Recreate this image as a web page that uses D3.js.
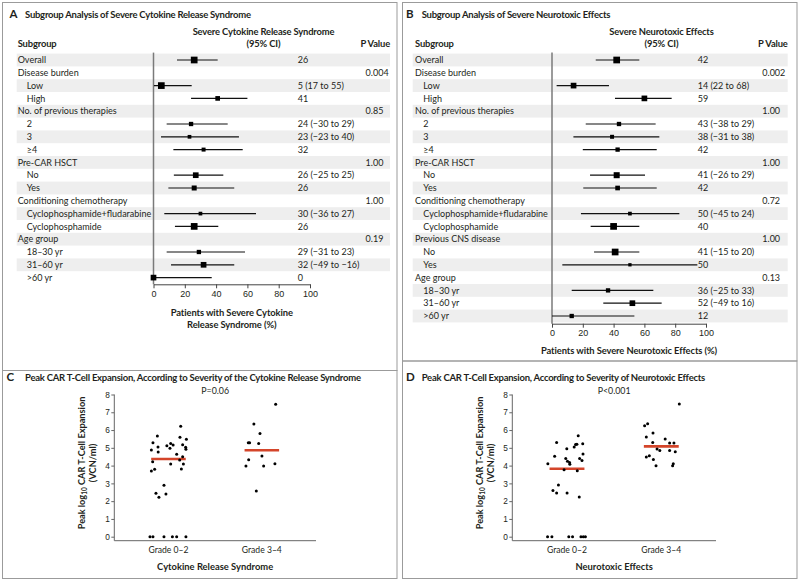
<!DOCTYPE html>
<html><head><meta charset="utf-8">
<script src="https://cdn.jsdelivr.net/npm/d3@7"></script>
<style>
body{margin:0;background:#fff}
svg{display:block;font-family:Lato,"Liberation Sans",sans-serif}
</style></head><body>
<svg id="chart" width="800" height="581"></svg>
<script>
// ---------------- Data: Panel A (severe cytokine release syndrome) ----------------
const subgroupsA = ["Overall","Disease burden","Low","High","No. of previous therapies","2","3","≥4","Pre-CAR HSCT","No","Yes","Conditioning chemotherapy","Cyclophosphamide+fludarabine","Cyclophosphamide","Age group","18–30 yr","31–60 yr",">60 yr"];
const indentA   = [0,0,1,1,0,1,1,1,0,1,1,0,1,1,0,1,1,1];
const estimateA = [26,null,5,41,null,24,23,32,null,27,26,null,30,26,null,29,32,0];
const lowerA    = [15,null,0.3,24,null,8.4,4.8,12.7,null,13,9.5,null,6.9,13.7,null,8.4,11.2,0.3];
const upperA    = [41,null,24.4,60,null,47.4,54.6,57,null,44.6,51.6,null,65.5,41.4,null,58.5,51.6,37.2];
const weightA   = [1,null,1,0.4,null,0.3,0.12,0.2,null,0.7,0.5,null,0.12,1,null,0.3,0.7,0.7];
const valueTextA = ["26","","5 (17 to 55)","41","","24 (−30 to 29)","23 (−23 to 40)","32","","26 (−25 to 25)","26","","30 (−36 to 27)","26","","29 (−31 to 23)","32 (−49 to −16)","0"];
const pValueA   = ["","0.004","","","0.85","","","","1.00","","","1.00","","","0.19","","",""];

// ---------------- Data: Panel B (severe neurotoxic effects) ----------------
const subgroupsB = ["Overall","Disease burden","Low","High","No. of previous therapies","2","3","≥4","Pre-CAR HSCT","No","Yes","Conditioning chemotherapy","Cyclophosphamide+fludarabine","Cyclophosphamide","Previous CNS disease","No","Yes","Age group","18–30  yr","31–60 yr",">60 yr"];
const indentB   = [0,0,1,1,0,1,1,1,0,1,1,0,1,1,0,1,1,0,1,1,1];
const estimateB = [42,null,14,60,null,43.5,39,42.6,null,42,42.6,null,50.6,40,null,41,50.6,null,36.4,52.2,12.8];
const lowerB    = [28.4,null,3,40.9,null,21.9,13.9,20,null,24.7,20.3,null,18.8,25.1,null,27.3,6.7,null,12.8,33.3,0];
const upperB    = [56.7,null,37,77.7,null,67.3,69.7,68,null,60.4,68,null,82.7,56.7,null,56.7,94.4,null,65.8,71.2,53.5];
const weightB   = [1,null,0.7,0.7,null,0.3,0.2,0.3,null,0.8,0.4,null,0.12,1,null,1,0,null,0.3,0.7,0.3];
const valueTextB = ["42","","14 (22 to 68)","59","","43 (−38 to 29)","38 (−31 to 38)","42","","41 (−26 to 29)","42","","50 (−45 to 24)","40","","41 (−15 to 20)","50","","36 (−25 to 33)","52 (−49 to 16)","12"];
const pValueB   = ["","0.002","","","1.00","","","","1.00","","","0.72","","","1.00","","","0.13","","",""];

const xTicks = [0,20,40,60,80,100];

// ---------------- Data: Panel C (CAR T-cell expansion by CRS grade) ----------------
const grades = ["Grade 0–2","Grade 3–4"];
const yTicks = [0,1,2,3,4,5,6,7,8];
const crsLowValues  = [6.22,5.66,5.29,5.59,5.48,5.05,5.12,5.25,5.16,5.18,4.88,4.76,4.97,5.03,4.92,4.64,4.50,4.31,4.22,4.09,4.09,3.70,3.79,3.81,2.89,2.44,2.22,2.40,0,0,0,0,0,0];
const crsLowJitter  = [0.131,-0.119,-0.166,0.123,0.192,-0.112,-0.017,0.024,0.050,0.152,-0.183,-0.110,0.016,0.184,0.187,0.088,0.152,0.120,-0.169,0.024,0.160,-0.183,-0.148,0.138,-0.048,-0.134,-0.102,-0.027,-0.198,-0.166,-0.048,0.042,0.088,0.187];
const crsHighValues = [7.45,6.34,5.81,5.29,5.29,5.25,4.54,4.33,3.98,3.98,4.11,2.57];
const crsHighJitter = [0.148,-0.085,-0.020,-0.145,-0.131,-0.034,0.001,-0.141,-0.170,0.019,0.140,-0.059];
const crsMedians = [4.37,4.86];

// ---------------- Data: Panel D (CAR T-cell expansion by neurotoxicity grade) ----------------
const neuroLowValues  = [5.68,5.30,5.19,5.20,5.04,5.23,4.95,4.52,4.65,4.40,4.40,4.29,4.24,4.18,4.07,4.11,3.77,3.71,2.91,2.60,2.46,2.46,2.23,0,0,0,0,0,0,0];
const neuroLowJitter  = [0.119,-0.110,0.091,0.105,0.076,0.167,-0.002,-0.131,0.170,-0.013,0.134,0.159,0.005,0.027,0.030,-0.203,-0.031,0.109,-0.091,-0.149,-0.110,0.001,0.130,-0.206,-0.160,0.019,0.059,0.148,0.173,0.195];
const neuroHighValues = [7.46,6.36,6.24,5.83,5.61,5.50,5.30,5.27,5.27,4.93,4.85,4.85,4.78,4.48,4.56,4.35,3.99,4.11,3.99];
const neuroHighJitter = [0.191,-0.145,-0.177,-0.088,-0.159,0.041,-0.091,0.088,0.134,-0.045,-0.016,0.088,0.148,-0.159,-0.127,-0.084,-0.056,0.127,0.120];
const neuroMedians = [3.82,5.08];

// ---------------- Drawing ----------------
const svg = d3.select("#chart");
const FS = 9;
const textCol = "#231f20";
const borderCol = "#9b9b9b";

// panel borders
const boxes = [[2.5,2.5,397,370.5],[402.5,2.5,797,361],[2.5,370.5,397,578.5],[402.5,361,797,578.5]];
svg.selectAll("rect.box").data(boxes).join("rect").attr("class","box")
  .attr("x",d=>d[0]).attr("y",d=>d[1]).attr("width",d=>d[2]-d[0]).attr("height",d=>d[3]-d[1])
  .attr("fill","none").attr("stroke",borderCol).attr("stroke-width",1);

function panelTitle(letter, lx, tx, y, text){
  svg.append("text").attr("x",lx).attr("y",y).attr("font-size",11.5).attr("font-weight",700).attr("fill",textCol).text(letter);
  svg.append("text").attr("x",tx).attr("y",y).attr("font-size",9.5).attr("font-weight",700)
    .attr("letter-spacing",-0.25).attr("fill",textCol).text(text);
}

function forest(cfg){
  const g = svg.append("g");
  const n = cfg.labels.length;
  const yRow = i => cfg.row0 + cfg.rowH*i;
  const x = d3.scaleLinear().domain([0,100]).range(cfg.xRange);
  const sz = d3.scaleLinear().domain([0,1]).range([3.3,6.7]);
  const idx = d3.range(n);
  // shading
  g.selectAll("rect.band").data(idx.filter(i=>i%2===0)).join("rect")
    .attr("x",cfg.band[0]).attr("width",cfg.band[1]-cfg.band[0])
    .attr("y",i=>yRow(i)-cfg.rowH/2).attr("height",cfg.rowH).attr("fill","#eeeeee");
  // headers
  const hb = (t,xx,yy,anchor)=>g.append("text").attr("x",xx).attr("y",yy+3.3).attr("text-anchor",anchor)
     .attr("font-size",9.4).attr("font-weight",700).attr("letter-spacing",-0.15).attr("fill",textCol).text(t);
  hb(cfg.header,cfg.headerX,32,"middle");
  hb("(95% CI)",cfg.headerX,43.5,"middle");
  hb("Subgroup",cfg.labelX,43.5,"start");
  hb("P Value",cfg.band[1],43.5,"end");
  // labels
  g.selectAll("text.lab").data(idx).join("text")
    .attr("x",i=>cfg.indent[i]?cfg.indentX:cfg.labelX).attr("y",i=>yRow(i)+3.2)
    .attr("font-size",FS).attr("fill",textCol).text(i=>cfg.labels[i]);
  g.selectAll("text.val").data(idx).join("text")
    .attr("x",cfg.valueX).attr("y",i=>yRow(i)+3.2)
    .attr("font-size",FS).attr("fill",textCol).text(i=>cfg.valueText[i]);
  g.selectAll("text.pv").data(idx).join("text")
    .attr("x",cfg.pX).attr("y",i=>yRow(i)+3.2)
    .attr("font-size",FS).attr("fill",textCol).text(i=>cfg.p[i]);
  // reference line
  g.append("line").attr("x1",x(0)).attr("x2",x(0)).attr("y1",cfg.row0-cfg.rowH/2-1).attr("y2",cfg.axisY)
    .attr("stroke","#7a7a7a").attr("stroke-width",1.5);
  // CIs and squares
  const est = idx.filter(i=>cfg.est[i]!==null);
  g.selectAll("line.ci").data(est).join("line")
    .attr("x1",i=>x(cfg.lo[i])).attr("x2",i=>x(cfg.hi[i]))
    .attr("y1",i=>yRow(i)).attr("y2",i=>yRow(i)).attr("stroke","#111").attr("stroke-width",1.2);
  g.selectAll("rect.sq").data(est).join("rect")
    .attr("x",i=>x(cfg.est[i])-sz(cfg.w[i])/2).attr("y",i=>yRow(i)-sz(cfg.w[i])/2)
    .attr("width",i=>sz(cfg.w[i])).attr("height",i=>sz(cfg.w[i])).attr("fill","#000");
  // axis
  const ax = g.append("g").attr("transform",`translate(0,${cfg.axisY})`)
    .call(d3.axisBottom(x).tickValues(xTicks).tickSize(4).tickSizeOuter(0).tickPadding(2));
  ax.select(".domain").attr("stroke","#444");
  ax.selectAll(".tick line").attr("stroke","#444");
  ax.selectAll(".tick text").attr("font-size",FS).attr("font-family","inherit").attr("fill",textCol);
  // axis title
  cfg.axisTitle.forEach((t,k)=>{
    g.append("text").attr("x",(cfg.xRange[0]+cfg.xRange[1])/2).attr("y",cfg.axisTitleY+k*11.5)
      .attr("text-anchor","middle").attr("font-size",9.4).attr("font-weight",700).attr("letter-spacing",-0.1)
      .attr("fill",textCol).text(t);
  });
}

panelTitle("A",9.5,25,17.5,"Subgroup Analysis of Severe Cytokine Release Syndrome");
forest({labels:subgroupsA,indent:indentA,est:estimateA,lo:lowerA,hi:upperA,w:weightA,valueText:valueTextA,p:pValueA,
  header:"Severe Cytokine Release Syndrome",headerX:263.5,labelX:17.7,indentX:26.7,band:[16.7,390],
  xRange:[153.5,310],valueX:297.7,pX:365.6,row0:60,rowH:12.8,axisY:284.3,
  axisTitle:["Patients with Severe Cytokine","Release Syndrome (%)"],axisTitleY:316});

panelTitle("B",406,421.7,17.5,"Subgroup Analysis of Severe Neurotoxic Effects");
forest({labels:subgroupsB,indent:indentB,est:estimateB,lo:lowerB,hi:upperB,w:weightB,valueText:valueTextB,p:pValueB,
  header:"Severe Neurotoxic Effects",headerX:661.5,labelX:415,indentX:423.3,band:[412.7,787.7],
  xRange:[552,706],valueX:697.7,pX:762.3,row0:60,rowH:12.8,axisY:323.7,
  axisTitle:["Patients with Severe Neurotoxic Effects (%)"],axisTitleY:354});

function scatter(cfg){
  const g = svg.append("g");
  const y = d3.scaleLinear().domain([0,8]).range([536.7,394.5]);
  const x = d3.scalePoint().domain(grades).range([cfg.ax0,cfg.ax1]).padding(0.58);
  const step = x.step();
  // axes lines
  g.append("line").attr("x1",cfg.ax0).attr("x2",cfg.ax0).attr("y1",y(8)).attr("y2",cfg.xAxisY).attr("stroke","#666").attr("stroke-width",1);
  g.append("line").attr("x1",cfg.ax0).attr("x2",cfg.ax1).attr("y1",cfg.xAxisY).attr("y2",cfg.xAxisY).attr("stroke","#666").attr("stroke-width",1);
  const ya = g.append("g").attr("transform",`translate(${cfg.ax0},0)`)
    .call(d3.axisLeft(y).tickValues(yTicks).tickSize(3).tickPadding(1.5));
  ya.select(".domain").remove();
  ya.selectAll(".tick line").attr("stroke","#666");
  ya.selectAll(".tick text").attr("font-size",8.3).attr("font-family","inherit").attr("fill",textCol);
  // category labels
  g.selectAll("text.cat").data(grades).join("text").attr("x",d=>x(d)).attr("y",552.5)
    .attr("text-anchor","middle").attr("font-size",8.6).attr("fill",textCol).text(d=>d);
  // x title
  g.append("text").attr("x",(cfg.ax0+cfg.ax1)/2).attr("y",570).attr("text-anchor","middle")
    .attr("font-size",9.4).attr("font-weight",700).attr("fill",textCol).text(cfg.xTitle);
  // y title
  const yt = g.append("text").attr("transform",`translate(${cfg.ax0-29},463) rotate(-90)`)
    .attr("text-anchor","middle").attr("font-size",9.2).attr("font-weight",700).attr("fill",textCol);
  yt.append("tspan").text("Peak log");
  yt.append("tspan").attr("font-size",6.5).attr("dy",2).text("10");
  yt.append("tspan").attr("dy",-2).text(" CAR T-Cell Expansion");
  g.append("text").attr("transform",`translate(${cfg.ax0-18},463) rotate(-90)`)
    .attr("text-anchor","middle").attr("font-size",9.2).attr("font-weight",700).attr("fill",textCol).text("(VCN/ml)");
  // P value
  g.append("text").attr("x",(cfg.ax0+cfg.ax1)/2).attr("y",394).attr("text-anchor","middle")
    .attr("font-size",8.8).attr("fill",textCol).text(cfg.pText);
  // medians
  g.selectAll("line.med").data(grades).join("line")
    .attr("x1",(d,i)=>x(d)-0.185*step).attr("x2",(d,i)=>x(d)+0.185*step)
    .attr("y1",(d,i)=>y(cfg.medians[i])).attr("y2",(d,i)=>y(cfg.medians[i]))
    .attr("stroke","#d4452a").attr("stroke-width",2.6);
  // points
  const pts = [];
  cfg.groups.forEach((grp,gi)=>grp.v.forEach((v,k)=>pts.push({g:grades[gi],v:v,j:grp.j[k]})));
  g.selectAll("circle").data(pts).join("circle")
    .attr("cx",d=>x(d.g)+d.j*step).attr("cy",d=>y(d.v)).attr("r",1.5).attr("fill","#000");
}

panelTitle("C",6.5,25,381,"Peak CAR T-Cell Expansion, According to Severity of the Cytokine Release Syndrome");
scatter({ax0:114.3,ax1:316,xAxisY:540.7,xTitle:"Cytokine Release Syndrome",pText:"P=0.06",medians:crsMedians,
  groups:[{v:crsLowValues,j:crsLowJitter},{v:crsHighValues,j:crsHighJitter}]});

panelTitle("D",406,421.7,381,"Peak CAR T-Cell Expansion, According to Severity of Neurotoxic Effects");
scatter({ax0:512.3,ax1:716,xAxisY:540.7,xTitle:"Neurotoxic Effects",pText:"P<0.001",medians:neuroMedians,
  groups:[{v:neuroLowValues,j:neuroLowJitter},{v:neuroHighValues,j:neuroHighJitter}]});
</script>
</body></html>
